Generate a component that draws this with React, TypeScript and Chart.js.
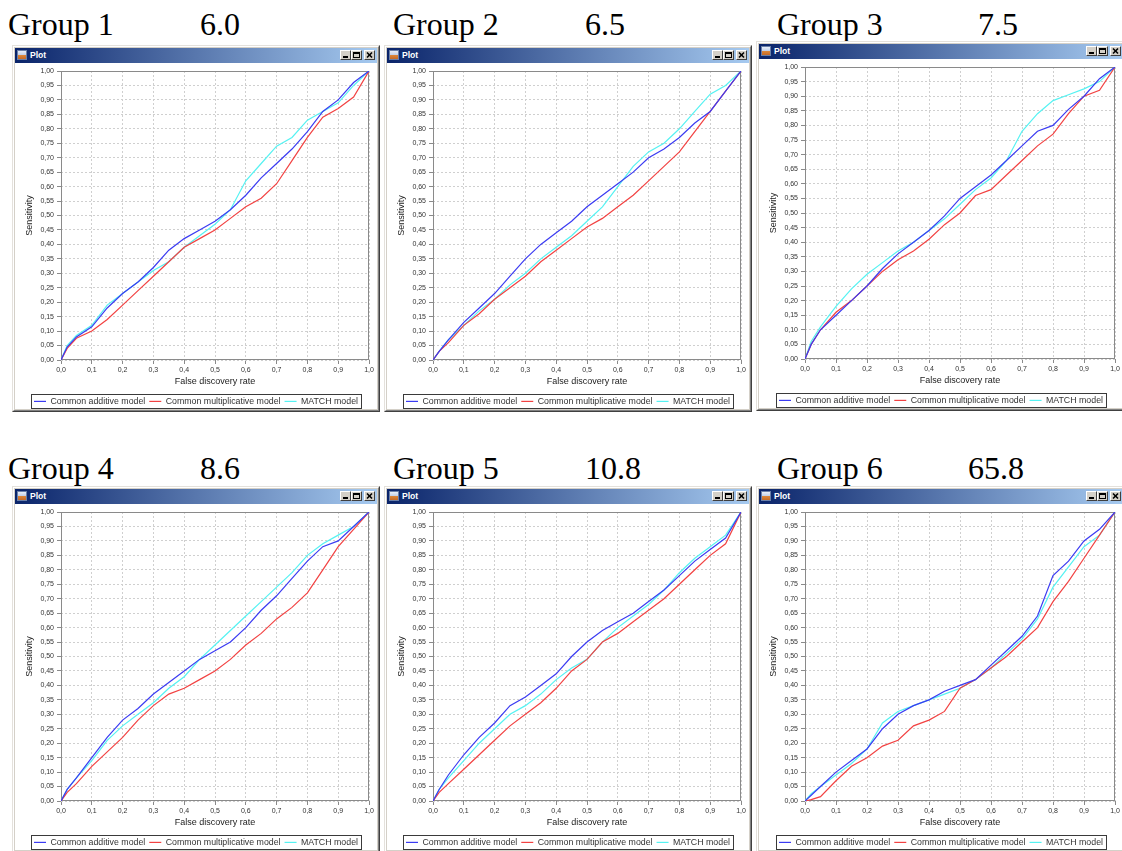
import React, { useEffect, useRef } from "react";
import { Chart, registerables } from "chart.js";

Chart.register(...registerables);

// False discovery rate values shared by every curve
const fdrGrid = [0, 0.02, 0.05, 0.1, 0.15, 0.2, 0.25, 0.3, 0.35, 0.4, 0.45, 0.5, 0.55, 0.6, 0.65, 0.7, 0.75, 0.8, 0.85, 0.9, 0.95, 1];

// Sensitivity per group and model
const group1Additive = [0, 0.045, 0.08, 0.115, 0.18, 0.23, 0.27, 0.32, 0.38, 0.42, 0.45, 0.48, 0.52, 0.57, 0.63, 0.68, 0.73, 0.79, 0.86, 0.9, 0.96, 1];
const group1Multiplicative = [0, 0.04, 0.075, 0.1, 0.14, 0.19, 0.24, 0.29, 0.34, 0.39, 0.42, 0.45, 0.49, 0.53, 0.56, 0.61, 0.69, 0.77, 0.84, 0.87, 0.91, 1];
const group1Match = [0, 0.05, 0.085, 0.12, 0.19, 0.23, 0.27, 0.31, 0.34, 0.39, 0.43, 0.47, 0.52, 0.62, 0.68, 0.74, 0.77, 0.83, 0.86, 0.89, 0.95, 1];

const group2Additive = [0, 0.03, 0.07, 0.13, 0.18, 0.23, 0.29, 0.35, 0.4, 0.44, 0.48, 0.53, 0.57, 0.61, 0.65, 0.7, 0.73, 0.77, 0.82, 0.86, 0.93, 1];
const group2Multiplicative = [0, 0.03, 0.06, 0.12, 0.16, 0.21, 0.25, 0.29, 0.34, 0.38, 0.42, 0.46, 0.49, 0.53, 0.57, 0.62, 0.67, 0.72, 0.79, 0.86, 0.93, 1];
const group2Match = [0, 0.03, 0.07, 0.12, 0.17, 0.21, 0.26, 0.3, 0.35, 0.39, 0.43, 0.48, 0.53, 0.6, 0.67, 0.72, 0.75, 0.8, 0.86, 0.92, 0.95, 1];

const group3Additive = [0, 0.05, 0.1, 0.15, 0.2, 0.25, 0.31, 0.36, 0.4, 0.44, 0.49, 0.55, 0.59, 0.63, 0.68, 0.73, 0.78, 0.8, 0.855, 0.9, 0.96, 1];
const group3Multiplicative = [0, 0.05, 0.1, 0.16, 0.2, 0.25, 0.3, 0.34, 0.37, 0.41, 0.46, 0.5, 0.56, 0.58, 0.63, 0.68, 0.73, 0.77, 0.84, 0.9, 0.92, 1];
const group3Match = [0, 0.06, 0.11, 0.18, 0.24, 0.29, 0.33, 0.37, 0.4, 0.44, 0.48, 0.53, 0.58, 0.62, 0.68, 0.78, 0.84, 0.885, 0.905, 0.925, 0.95, 1];

const group4Additive = [0, 0.04, 0.08, 0.15, 0.22, 0.28, 0.32, 0.37, 0.41, 0.45, 0.49, 0.52, 0.55, 0.6, 0.66, 0.71, 0.77, 0.83, 0.88, 0.9, 0.95, 1];
const group4Multiplicative = [0, 0.03, 0.06, 0.12, 0.17, 0.22, 0.28, 0.33, 0.37, 0.39, 0.42, 0.45, 0.49, 0.54, 0.58, 0.63, 0.67, 0.72, 0.8, 0.88, 0.94, 1];
const group4Match = [0, 0.04, 0.08, 0.14, 0.21, 0.26, 0.3, 0.34, 0.39, 0.43, 0.49, 0.54, 0.59, 0.64, 0.69, 0.74, 0.79, 0.85, 0.89, 0.92, 0.95, 1];

const group5Additive = [0, 0.04, 0.09, 0.16, 0.22, 0.27, 0.33, 0.36, 0.4, 0.44, 0.5, 0.55, 0.59, 0.62, 0.65, 0.69, 0.73, 0.78, 0.83, 0.87, 0.91, 1];
const group5Multiplicative = [0, 0.03, 0.06, 0.11, 0.16, 0.21, 0.26, 0.3, 0.34, 0.39, 0.45, 0.49, 0.55, 0.58, 0.62, 0.66, 0.7, 0.75, 0.8, 0.85, 0.89, 1];
const group5Match = [0, 0.04, 0.08, 0.14, 0.2, 0.25, 0.3, 0.33, 0.37, 0.42, 0.46, 0.49, 0.55, 0.6, 0.64, 0.68, 0.73, 0.79, 0.84, 0.88, 0.92, 1];

const group6Additive = [0, 0.02, 0.05, 0.1, 0.14, 0.18, 0.25, 0.3, 0.33, 0.35, 0.38, 0.4, 0.42, 0.47, 0.52, 0.57, 0.64, 0.78, 0.83, 0.9, 0.94, 1];
const group6Multiplicative = [0, 0.005, 0.015, 0.07, 0.12, 0.15, 0.19, 0.21, 0.26, 0.28, 0.31, 0.39, 0.42, 0.46, 0.5, 0.55, 0.6, 0.69, 0.76, 0.84, 0.92, 1];
const group6Match = [0, 0.025, 0.05, 0.09, 0.13, 0.18, 0.27, 0.31, 0.33, 0.35, 0.37, 0.39, 0.42, 0.46, 0.51, 0.56, 0.63, 0.74, 0.81, 0.88, 0.92, 1];

const groupNames = ["Group 1", "Group 2", "Group 3", "Group 4", "Group 5", "Group 6"];
const groupScores = ["6.0", "6.5", "7.5", "8.6", "10.8", "65.8"];
const seriesNames = ["Common additive model", "Common multiplicative model", "MATCH model"];
const seriesColors = ["#3b3bf2", "#f24242", "#55f2f2"];
const xAxisTitle = "False discovery rate";
const yAxisTitle = "Sensitivity";
const windowTitle = "Plot";

const groupSeries = [
  [group1Additive, group1Multiplicative, group1Match],
  [group2Additive, group2Multiplicative, group2Match],
  [group3Additive, group3Multiplicative, group3Match],
  [group4Additive, group4Multiplicative, group4Match],
  [group5Additive, group5Multiplicative, group5Match],
  [group6Additive, group6Multiplicative, group6Match],
];

// Window frames and heading positions on the page
const frames = [
  { left: 12, top: 45, width: 368, height: 367, nameX: 8, scoreX: 200, headTop: 7.5 },
  { left: 384, top: 45, width: 368, height: 367, nameX: 393, scoreX: 585, headTop: 7.5 },
  { left: 756, top: 41, width: 370, height: 370, nameX: 777, scoreX: 978, headTop: 7.5 },
  { left: 12, top: 486, width: 368, height: 367, nameX: 8, scoreX: 200, headTop: 452 },
  { left: 384, top: 486, width: 368, height: 367, nameX: 393, scoreX: 585, headTop: 452 },
  { left: 756, top: 486, width: 370, height: 367, nameX: 777, scoreX: 968, headTop: 452 },
];

const SANS = '"Liberation Sans", Arial, sans-serif';
const SERIF = '"Liberation Serif", "Times New Roman", serif';
const TITLE_BAR = 15;
const FRAME = 3;

const fmt = (v: number, d: number) => Number(v).toFixed(d).replace(".", ",");

// Solid outline round the plot area
const plotOutline = {
  id: "plotOutline",
  beforeDatasetsDraw(chart: any) {
    const { ctx, chartArea } = chart;
    const l = Math.round(chartArea.left) + 0.5;
    const t = Math.round(chartArea.top) + 0.5;
    const r = Math.round(chartArea.right) - 0.5;
    const b = Math.round(chartArea.bottom) - 0.5;
    ctx.save();
    ctx.strokeStyle = "#8a8a8a";
    ctx.lineWidth = 1;
    ctx.strokeRect(l, t, r - l, b - t);
    ctx.restore();
  },
};

// Dark frame round the legend items
const legendFrame = {
  id: "legendFrame",
  afterDraw(chart: any) {
    const hb = chart.legend && chart.legend.legendHitBoxes;
    if (!hb || !hb.length) return;
    const { ctx } = chart;
    const l = Math.min(...hb.map((h: any) => h.left)) - 3;
    const r = Math.max(...hb.map((h: any) => h.left + h.width)) + 3;
    const t = hb[0].top - 3;
    const b = hb[0].top + hb[0].height + 2;
    ctx.save();
    ctx.strokeStyle = "#3a3a3a";
    ctx.lineWidth = 1;
    ctx.strokeRect(Math.round(l) + 0.5, Math.round(t) + 0.5, Math.round(r - l), Math.round(b - t));
    ctx.restore();
  },
};

function buildConfig(series: number[][]): any {
  const gridCommon = {
    color: "#cfcfcf",
    lineWidth: 1,
    tickLength: 4,
    tickColor: "#8a8a8a",
    tickWidth: 1,
    tickBorderDash: [],
  };
  return {
    type: "line",
    data: {
      datasets: seriesNames.map((name, i) => ({
        label: name,
        data: fdrGrid.map((x, j) => ({ x, y: series[i][j] })),
        borderColor: seriesColors[i],
        backgroundColor: seriesColors[i],
        borderWidth: 1.2,
        pointRadius: 0,
        tension: 0,
        fill: false,
      })),
    },
    options: {
      responsive: false,
      animation: false,
      events: [],
      layout: { padding: { top: 8, left: 0, right: 0, bottom: 0 } },
      plugins: {
        tooltip: { enabled: false },
        legend: {
          display: true,
          position: "bottom",
          align: "center",
          maxHeight: 16,
          labels: {
            usePointStyle: true,
            pointStyle: "line",
            pointStyleWidth: 12,
            font: { family: SANS, size: 8.8 },
            color: "#333",
            padding: 4,
          },
        },
      },
      scales: {
        x: {
          type: "linear",
          position: "bottom",
          min: 0,
          max: 1,
          ticks: {
            stepSize: 0.1,
            autoSkip: false,
            maxRotation: 0,
            padding: 2,
            color: "#333",
            font: { family: SANS, size: 7 },
            callback: (v: number) => fmt(v, 1),
          },
          grid: gridCommon,
          border: { display: false, dash: [2, 2] },
          title: {
            display: true,
            text: xAxisTitle,
            color: "#222",
            font: { family: SANS, size: 9 },
            padding: { top: 0, bottom: 5.6 },
          },
          afterFit: (s: any) => {
            s.height = 33;
          },
        },
        y: {
          type: "linear",
          position: "left",
          min: 0,
          max: 1,
          ticks: {
            stepSize: 0.05,
            autoSkip: false,
            padding: 3,
            color: "#333",
            font: { family: SANS, size: 7 },
            callback: (v: number) => fmt(v, 2),
          },
          grid: gridCommon,
          border: { display: false, dash: [2, 2] },
          title: {
            display: true,
            text: yAxisTitle,
            color: "#222",
            font: { family: SANS, size: 9 },
            padding: { top: 9.6, bottom: 0 },
          },
          afterFit: (s: any) => {
            s.width = 46;
          },
        },
        edge: {
          type: "linear",
          position: "right",
          display: true,
          ticks: { display: false },
          grid: { display: false, drawTicks: false },
          border: { display: false },
          afterFit: (s: any) => {
            s.width = 8;
          },
        },
      },
    },
    plugins: [plotOutline, legendFrame],
  };
}

function TitleButton({ left, kind }: { left: number; kind: "min" | "max" | "close" }) {
  return (
    <div
      style={{
        position: "absolute",
        left,
        top: 2,
        width: 11,
        height: 10,
        boxSizing: "border-box",
        background: "#d4d0c8",
        borderStyle: "solid",
        borderWidth: 1,
        borderColor: "#ffffff #404040 #404040 #ffffff",
      }}
    >
      <svg width={9} height={8} style={{ position: "absolute", left: 0, top: 0 }}>
        {kind === "min" && <rect x={2} y={5} width={5} height={2} fill="#000" />}
        {kind === "max" && (
          <g>
            <rect x={1.5} y={1.5} width={6} height={5} fill="none" stroke="#000" strokeWidth={1} />
            <rect x={1} y={1} width={7} height={2} fill="#000" />
          </g>
        )}
        {kind === "close" && (
          <g stroke="#000" strokeWidth={1.6}>
            <line x1={2} y1={1.5} x2={7} y2={6.5} />
            <line x1={7} y1={1.5} x2={2} y2={6.5} />
          </g>
        )}
      </svg>
    </div>
  );
}

function PlotWindow({ frame, series }: { frame: any; series: number[][] }) {
  const canvasRef = useRef<HTMLCanvasElement>(null);
  const cw = frame.width - FRAME * 2;
  const ch = frame.height - FRAME * 2 - TITLE_BAR;

  useEffect(() => {
    const chart = new Chart(canvasRef.current as HTMLCanvasElement, buildConfig(series));
    return () => chart.destroy();
  }, [series]);

  return (
    <div
      style={{
        position: "absolute",
        left: frame.left,
        top: frame.top,
        width: frame.width,
        height: frame.height,
        boxSizing: "border-box",
        background: "#d4d0c8",
        borderStyle: "solid",
        borderWidth: 1,
        borderColor: "#e4e1dc #404040 #404040 #e4e1dc",
      }}
    >
      <div
        style={{
          position: "absolute",
          left: 0,
          top: 0,
          right: 0,
          bottom: 0,
          borderStyle: "solid",
          borderWidth: 1,
          borderColor: "#ffffff #808080 #808080 #ffffff",
        }}
      />
      <div
        style={{
          position: "absolute",
          left: FRAME - 1,
          top: FRAME - 1,
          width: cw,
          height: TITLE_BAR,
          background: "linear-gradient(to right, #0a246a, #a6caf0)",
        }}
      >
        <div
          style={{
            position: "absolute",
            left: 2,
            top: 2,
            width: 10,
            height: 10,
            boxSizing: "border-box",
            background: "linear-gradient(to bottom, #e8eef8 0%, #c4d2ea 45%, #e08a3a 46%, #c46a28 100%)",
            border: "1px solid #6a7fa8",
          }}
        />
        <span
          style={{
            position: "absolute",
            left: 15,
            top: 0,
            lineHeight: `${TITLE_BAR}px`,
            fontFamily: SANS,
            fontWeight: "bold",
            fontSize: 8.6,
            color: "#ffffff",
          }}
        >
          {windowTitle}
        </span>
        <TitleButton left={cw - 37} kind="min" />
        <TitleButton left={cw - 26} kind="max" />
        <TitleButton left={cw - 13} kind="close" />
      </div>
      <div
        style={{
          position: "absolute",
          left: FRAME - 1,
          top: FRAME - 1 + TITLE_BAR,
          width: cw,
          height: ch,
          background: "#ffffff",
        }}
      >
        <canvas ref={canvasRef} width={cw} height={ch} style={{ display: "block", width: cw, height: ch }} />
      </div>
    </div>
  );
}

export default function App() {
  return (
    <div
      style={{
        position: "absolute",
        left: 0,
        top: 0,
        width: 1122,
        height: 851,
        overflow: "hidden",
        background: "#ffffff",
      }}
    >
      {frames.map((f, i) => (
        <React.Fragment key={i}>
          <span
            style={{
              position: "absolute",
              left: f.nameX,
              top: f.headTop,
              fontFamily: SERIF,
              fontSize: 32,
              lineHeight: "32px",
              color: "#000",
              whiteSpace: "nowrap",
            }}
          >
            {groupNames[i]}
          </span>
          <span
            style={{
              position: "absolute",
              left: f.scoreX,
              top: f.headTop,
              fontFamily: SERIF,
              fontSize: 32,
              lineHeight: "32px",
              color: "#000",
              whiteSpace: "nowrap",
            }}
          >
            {groupScores[i]}
          </span>
          <PlotWindow frame={f} series={groupSeries[i]} />
        </React.Fragment>
      ))}
    </div>
  );
}
